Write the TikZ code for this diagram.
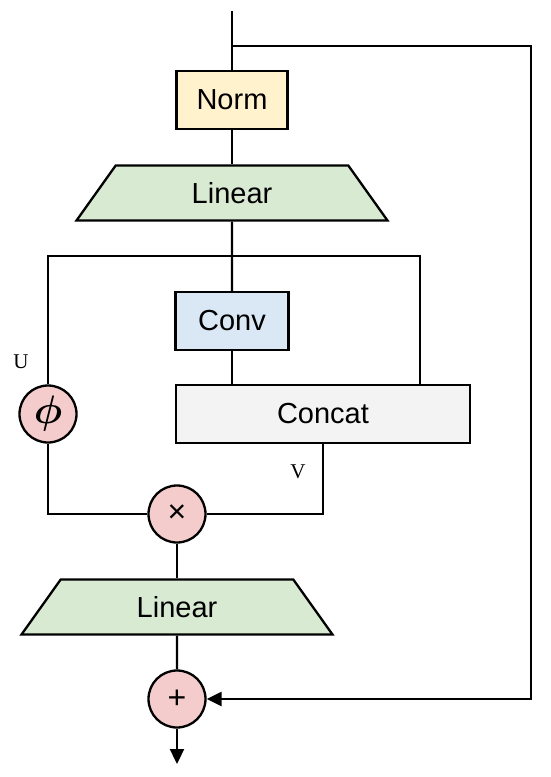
\documentclass[tikz,border=0pt]{standalone}
\usepackage{amsmath}
\usepackage{fontspec}
\setmainfont{Liberation Sans}
\newfontfamily\labelfont{Liberation Serif}
\usepackage{tikz}
\usetikzlibrary{arrows.meta}
\usetikzlibrary{shapes.geometric,positioning}

\definecolor{normfill}{HTML}{FFF2CC}
\definecolor{linfill}{HTML}{D9EAD3}
\definecolor{convfill}{HTML}{DAE8F5}
\definecolor{catfill}{HTML}{F3F3F3}
\definecolor{opfill}{HTML}{F4CCCC}

\begin{document}
\begin{tikzpicture}[x=1pt,y=-1pt,>={Triangle[length=15pt,width=14pt]},line width=2.3pt,
                        box node/.style={rectangle,draw,minimum height=58pt,font=\fontsize{29}{32}\selectfont},
                        lin node/.style={trapezium,draw,fill=linfill,trapezium angle=35.5,trapezium stretches body,
                                         minimum width=311pt,minimum height=55pt,font=\fontsize{29}{32}\selectfont},
                        op node/.style={circle,draw,fill=opfill,minimum size=57pt,inner sep=0pt,font=\fontsize{32}{36}\selectfont},
                        tag/.style={font=\labelfont\fontsize{21}{24}\selectfont}]

      \useasboundingbox (0,0) rectangle (550,777);

      \coordinate (in) at (232,11);
      \coordinate (split) at (232,46);
      \coordinate (skip) at (531,46);
      \node[box node,fill=normfill,minimum width=111pt] (norm) at (232,100) {Norm};
      \node[lin node] (lin1) at (232,193) {Linear};
      \coordinate (fork) at (420,256);
      \node[box node,fill=convfill,minimum width=113pt] (conv) at (232,321) {Conv};
      \node[box node,fill=catfill,minimum width=294pt] (concat) at (323,414) {Concat};
      \node[op node] (phi) at (48,414) {\scalebox{1.6}{$\boldsymbol{\phi}$}};
      \node[op node] (mul) at (177,514) {×};
      \node[lin node] (lin2) at (177,607) {Linear};
      \node[op node] (add) at (177,699) {+};
      \coordinate (out) at (177,764);

      \node[tag] (u) at (21,362) {U};
      \node[tag] (v) at (298,472) {V};

      \draw (in) -- (norm);
      \draw (norm) -- (lin1);
      \draw (lin1) -- (conv);
      \draw (phi) |- (fork) -- (fork |- concat.north);
      \draw (conv.south) -- (conv.south |- concat.north);
      \draw (phi) |- (mul);
      \draw (concat) |- (mul);
      \draw (mul) -- (lin2);
      \draw (lin2) -- (add);
      \draw[->] (add) -- (out);
      \draw[->] (split) -- (skip) |- (add);
    \end{tikzpicture}
\end{document}
